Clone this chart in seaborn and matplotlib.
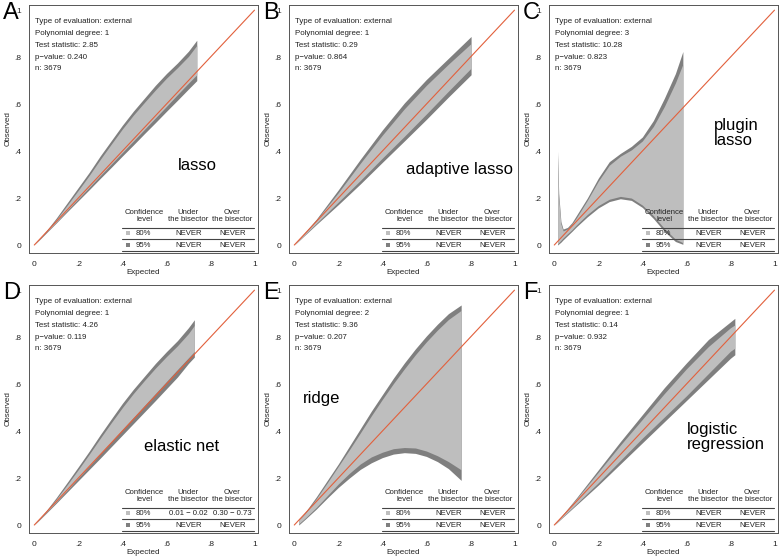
import numpy as np
import pandas as pd
import matplotlib
matplotlib.use("Agg")
import matplotlib.pyplot as plt
import seaborn as sns

# belt boundaries (expected prob -> observed prob)
x_lasso = [0, 0.05, 0.1, 0.15, 0.2, 0.25, 0.3, 0.35, 0.4, 0.45, 0.5, 0.55, 0.6, 0.65, 0.7, 0.738]
hi95_lasso = [0, 0.055, 0.115, 0.18, 0.245, 0.31, 0.38, 0.445, 0.51, 0.57, 0.625, 0.68, 0.73, 0.775, 0.825, 0.872]
hi80_lasso = [0, 0.05, 0.108, 0.17, 0.233, 0.297, 0.365, 0.43, 0.494, 0.553, 0.607, 0.66, 0.71, 0.755, 0.803, 0.85]
lo80_lasso = [0, 0.049, 0.098, 0.148, 0.197, 0.246, 0.296, 0.345, 0.394, 0.443, 0.492, 0.541, 0.59, 0.64, 0.689, 0.725]
lo95_lasso = [0, 0.047, 0.094, 0.142, 0.189, 0.236, 0.284, 0.331, 0.379, 0.426, 0.474, 0.521, 0.569, 0.616, 0.664, 0.70]

x_alasso = [0, 0.1, 0.2, 0.3, 0.4, 0.5, 0.6, 0.7, 0.803]
hi95_alasso = [0, 0.11, 0.235, 0.365, 0.49, 0.605, 0.705, 0.795, 0.888]
hi80_alasso = [0, 0.105, 0.223, 0.348, 0.468, 0.58, 0.68, 0.77, 0.858]
lo80_alasso = [0, 0.092, 0.183, 0.275, 0.37, 0.463, 0.558, 0.655, 0.753]
lo95_alasso = [0, 0.087, 0.172, 0.26, 0.352, 0.443, 0.535, 0.63, 0.725]

x_plugin = [0.015, 0.02, 0.03, 0.04, 0.06, 0.08, 0.1, 0.15, 0.2, 0.25, 0.3, 0.35, 0.4, 0.45, 0.5, 0.55, 0.584]
hi95_plugin = [0.40, 0.22, 0.10, 0.068, 0.075, 0.095, 0.125, 0.2, 0.285, 0.355, 0.39, 0.42, 0.46, 0.53, 0.625, 0.73, 0.824]
hi80_plugin = [0.38, 0.20, 0.09, 0.06, 0.068, 0.088, 0.115, 0.19, 0.272, 0.34, 0.378, 0.405, 0.443, 0.505, 0.59, 0.69, 0.77]
lo80_plugin = [0.005, 0.01, 0.02, 0.03, 0.048, 0.065, 0.085, 0.13, 0.168, 0.195, 0.207, 0.2, 0.17, 0.125, 0.07, 0.025, 0.01]
lo95_plugin = [0.0, 0.004, 0.012, 0.022, 0.04, 0.058, 0.077, 0.12, 0.158, 0.185, 0.197, 0.19, 0.16, 0.113, 0.058, 0.015, 0.003]

x_enet = [0, 0.05, 0.1, 0.15, 0.2, 0.25, 0.3, 0.35, 0.4, 0.45, 0.5, 0.55, 0.6, 0.65, 0.7, 0.727]
hi95_enet = [0, 0.056, 0.117, 0.182, 0.248, 0.315, 0.385, 0.452, 0.518, 0.578, 0.633, 0.688, 0.738, 0.785, 0.84, 0.874]
hi80_enet = [0, 0.052, 0.11, 0.172, 0.236, 0.302, 0.37, 0.436, 0.5, 0.56, 0.615, 0.668, 0.717, 0.763, 0.815, 0.85]
lo80_enet = [0, 0.049, 0.099, 0.149, 0.2, 0.251, 0.303, 0.355, 0.407, 0.458, 0.509, 0.56, 0.611, 0.662, 0.712, 0.739]
lo95_enet = [0, 0.046, 0.093, 0.141, 0.189, 0.237, 0.285, 0.334, 0.383, 0.432, 0.481, 0.53, 0.58, 0.63, 0.688, 0.715]

x_ridge = [0.02, 0.05, 0.1, 0.15, 0.2, 0.25, 0.3, 0.35, 0.4, 0.45, 0.5, 0.55, 0.6, 0.65, 0.7, 0.758]
hi95_ridge = [0.02, 0.055, 0.12, 0.19, 0.26, 0.335, 0.41, 0.485, 0.555, 0.625, 0.69, 0.75, 0.805, 0.855, 0.9, 0.937]
hi80_ridge = [0.02, 0.05, 0.112, 0.18, 0.25, 0.32, 0.392, 0.465, 0.535, 0.602, 0.665, 0.725, 0.78, 0.83, 0.875, 0.914]
lo80_ridge = [0.005, 0.03, 0.075, 0.125, 0.175, 0.22, 0.26, 0.29, 0.31, 0.325, 0.33, 0.328, 0.315, 0.295, 0.27, 0.235]
lo95_ridge = [0.0, 0.025, 0.068, 0.115, 0.16, 0.2, 0.237, 0.265, 0.287, 0.302, 0.308, 0.305, 0.292, 0.27, 0.24, 0.19]

x_logit = [0, 0.1, 0.2, 0.3, 0.4, 0.5, 0.6, 0.7, 0.8, 0.82]
hi95_logit = [0, 0.115, 0.235, 0.355, 0.47, 0.585, 0.69, 0.79, 0.865, 0.88]
hi80_logit = [0, 0.11, 0.225, 0.34, 0.45, 0.56, 0.665, 0.76, 0.84, 0.852]
lo80_logit = [0, 0.09, 0.18, 0.275, 0.37, 0.46, 0.55, 0.645, 0.74, 0.753]
lo95_logit = [0, 0.085, 0.17, 0.26, 0.35, 0.44, 0.53, 0.62, 0.71, 0.725]

letters = ["A", "B", "C", "D", "E", "F"]
model_names = ["lasso", "adaptive lasso", "plugin\nlasso", "elastic net", "ridge", "logistic\nregression"]
poly_degree = [1, 1, 3, 1, 2, 1]
test_stat = ["2.85", "0.29", "10.28", "4.26", "9.36", "0.14"]
p_value = ["0.240", "0.864", "0.823", "0.119", "0.207", "0.932"]
n_obs = [3679] * 6
under80 = ["NEVER", "NEVER", "NEVER", "0.01 \u2212 0.02", "NEVER", "NEVER"]
over80 = ["NEVER", "NEVER", "NEVER", "0.30 \u2212 0.73", "NEVER", "NEVER"]
under95 = ["NEVER"] * 6
over95 = ["NEVER"] * 6

belts = [
    (x_lasso, lo95_lasso, lo80_lasso, hi80_lasso, hi95_lasso),
    (x_alasso, lo95_alasso, lo80_alasso, hi80_alasso, hi95_alasso),
    (x_plugin, lo95_plugin, lo80_plugin, hi80_plugin, hi95_plugin),
    (x_enet, lo95_enet, lo80_enet, hi80_enet, hi95_enet),
    (x_ridge, lo95_ridge, lo80_ridge, hi80_ridge, hi95_ridge),
    (x_logit, lo95_logit, lo80_logit, hi80_logit, hi95_logit),
]
# where the model name sits (data coords) and how it is aligned
label_pos = [(0.74, 0.34, "center"), (0.75, 0.32, "center"), (0.723, 0.476, "left"),
             (0.668, 0.335, "center"), (0.124, 0.54, "center"), (0.60, 0.376, "left")]

sns.set_style("white")
plt.rcParams["font.family"] = ["Liberation Sans", "DejaVu Sans"]

light = "#bebebe"
dark = "#7f7f7f"
red = "#e2603c"
ink = "#222222"

fig = plt.figure(figsize=(7.8, 5.58), dpi=100)
lefts = [29, 289, 549]
bottoms = [253, 533]

for i in range(6):
    r, c = divmod(i, 3)
    ax = fig.add_axes([lefts[c] / 780, (558 - bottoms[r]) / 558, 229 / 780, 248 / 558])
    xs, lo95, lo80, hi80, hi95 = belts[i]
    ax.fill_between(xs, lo95, hi95, color=dark, linewidth=0)
    ax.fill_between(xs, lo80, hi80, color=light, linewidth=0)
    diag = pd.DataFrame({"e": [0, 1], "o": [0, 1]})
    sns.lineplot(data=diag, x="e", y="o", ax=ax, color=red, linewidth=0.8)

    ax.set_xlim(-0.024, 1.016)
    ax.set_ylim(-0.034, 1.022)
    ticks = [0, 0.2, 0.4, 0.6, 0.8, 1]
    tl = ["0", ".2", ".4", ".6", ".8", "1"]
    ax.set_xticks(ticks)
    ax.set_xticklabels(tl)
    ax.set_yticks(ticks)
    ax.set_yticklabels(tl)
    ax.tick_params(direction="out", length=4, width=0.6, color="#444444",
                   labelsize=6, pad=1.5, labelcolor=ink)
    ax.set_xlabel("Expected", fontsize=5.8, labelpad=1, color=ink)
    ax.set_ylabel("Observed", fontsize=5.8, labelpad=2, color=ink)
    for s in ax.spines.values():
        s.set_color("#555555")
        s.set_linewidth(0.7)

    info = ["Type of evaluation: external",
            f"Polynomial degree: {poly_degree[i]}",
            f"Test statistic: {test_stat[i]}",
            f"p\u2212value: {p_value[i]}",
            f"n: {n_obs[i]}"]
    for k, line in enumerate(info):
        ax.text(0.003, 0.952 - 0.0505 * k, line, fontsize=5.7, va="center", ha="left", color=ink)

    lx, ly, lha = label_pos[i]
    ax.text(lx, ly, model_names[i], fontsize=12, ha=lha, va="center", color="black",
            linespacing=1.0)

    # table in the lower right corner
    for cx, head in [(0.50, "Confidence\nlevel"), (0.70, "Under\nthe bisector"),
                     (0.90, "Over\nthe bisector")]:
        ax.text(cx, 0.123, head, fontsize=5.6, ha="center", va="center",
                linespacing=1.1, color=ink)
    for yl in [0.074, 0.027, -0.027]:
        ax.plot([0.40, 1.0], [yl, yl], color="#444444", linewidth=0.8)
    rows = [(0.051, light, "80%", under80[i], over80[i]),
            (-0.001, dark, "95%", under95[i], over95[i])]
    for yr, col, lvl, un, ov in rows:
        ax.scatter([0.425], [yr], marker="s", s=7, color=col, linewidths=0)
        ax.text(0.462, yr, lvl, fontsize=5.6, ha="left", va="center", color=ink)
        ax.text(0.70, yr, un, fontsize=5.6, ha="center", va="center", color=ink)
        ax.text(0.90, yr, ov, fontsize=5.6, ha="center", va="center", color=ink)

    fig.text((3 + 260 * c) / 780, 1 - (2 + 280 * r) / 558, letters[i], fontsize=17,
             ha="left", va="top", color="black")

fig.savefig("out.png", dpi=100)
